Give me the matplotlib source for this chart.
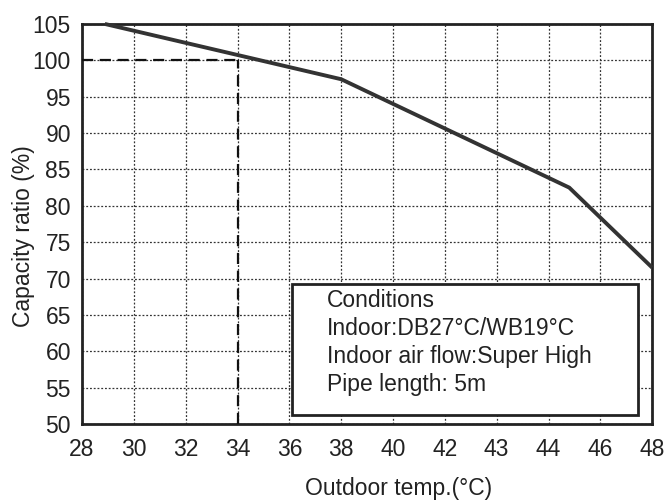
import numpy as np
import matplotlib
matplotlib.use("Agg")
from matplotlib import pyplot as plt
from matplotlib.patches import Rectangle

plt.rcParams['font.family'] = ['Liberation Sans', 'DejaVu Sans']

# tick labels on the x axis (evenly spaced categories)
x_labels = ['28', '30', '32', '34', '36', '38', '40', '42', '43', '44', '46', '48']
y_ticks = [50, 55, 60, 65, 70, 75, 80, 85, 90, 95, 100, 105]

# curve, x given in tick-slot units (0 = "28", 11 = "48")
curve_x = [0.44, 5.0, 9.4, 11.0]
curve_y = [105.0, 97.4, 82.5, 71.5]

# reference point: 34 C -> 100 %
ref_slot = 3
ref_value = 100

conditions = ['Conditions',
              'Indoor:DB27°C/WB19°C',
              'Indoor air flow:Super High',
              'Pipe length: 5m']

fig = plt.figure(figsize=(6.68, 5.01), dpi=100)
ax = fig.add_axes([0.1228, 0.1537, 0.8535, 0.7985])

xs = np.arange(len(x_labels))
ax.set_xlim(0, len(x_labels) - 1)
ax.set_ylim(50, 105)
ax.set_xticks(xs)
ax.set_xticklabels(x_labels)
ax.set_yticks(y_ticks)

ax.grid(True, color='#333333', linestyle=(0, (1.5, 1.5)), linewidth=0.9)
ax.tick_params(length=0, labelsize=16.5, colors='#222222')
ax.tick_params(axis='y', pad=8)
ax.tick_params(axis='x', pad=10)
for s in ax.spines.values():
    s.set_linewidth(2)
    s.set_color('#222222')

# dashed guide lines
ax.plot([0, ref_slot], [ref_value, ref_value], color='#111111', lw=1.6,
        linestyle=(0, (5, 3)), zorder=3)
ax.plot([ref_slot, ref_slot], [50, ref_value], color='#111111', lw=1.6,
        linestyle=(0, (5, 3)), zorder=3)

# main curve
ax.plot(curve_x, curve_y, color='#333333', lw=2.8, zorder=4,
        solid_capstyle='butt', clip_on=False)

# conditions box
box = Rectangle((4.05, 51.3), 6.68, 17.9, facecolor='white',
                edgecolor='#222222', lw=2, zorder=5)
ax.add_patch(box)
for i, t in enumerate(conditions):
    ax.text(4.72, 67.0 - i * 3.85, t, fontsize=16.5, va='center', ha='left',
            color='#222222', zorder=6)

ylab = ax.set_ylabel('Capacity ratio (%)', fontsize=16.5, color='#222222')
ylab.set_va('center')
ax.yaxis.set_label_coords(-0.1035, 0.47)
xlab = ax.set_xlabel('Outdoor temp.(°C)', fontsize=16.5, color='#222222')
xlab.set_va('center')
ax.xaxis.set_label_coords(0.556, -0.162)

fig.savefig('out.png', dpi=100)
